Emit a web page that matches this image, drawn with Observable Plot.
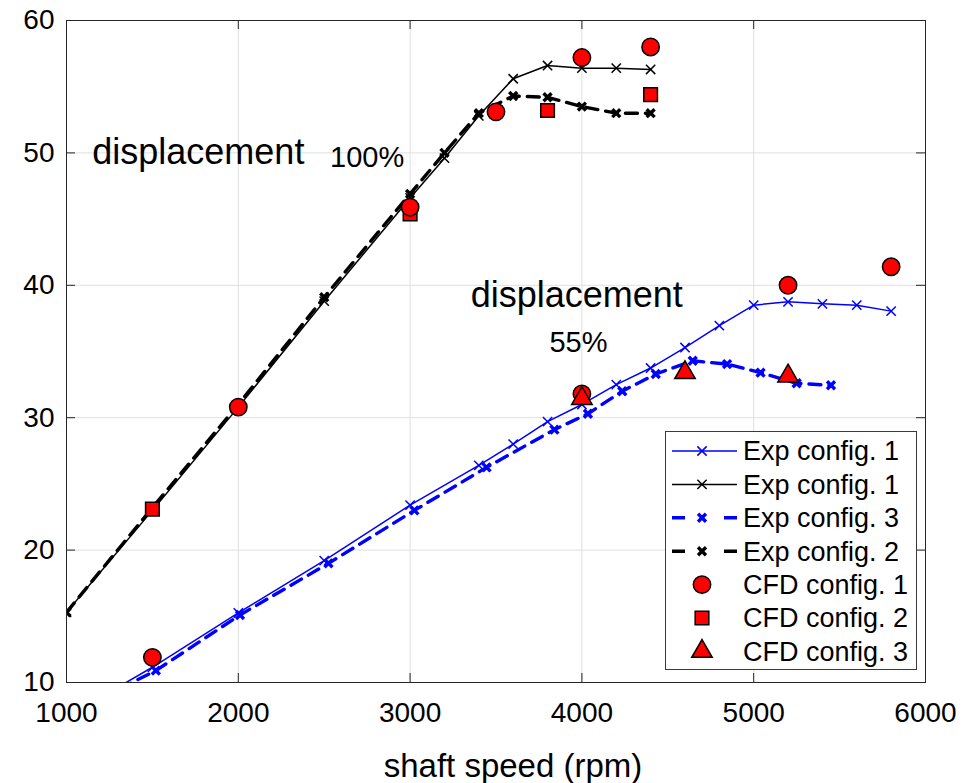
<!DOCTYPE html>
<html><head><meta charset="utf-8">
<script src="https://cdn.jsdelivr.net/npm/d3@7"></script>
<script src="https://cdn.jsdelivr.net/npm/@observablehq/plot@0.6"></script>
<style>
html,body{margin:0;padding:0;background:#fff;}
#chart{position:relative;width:979px;height:783px;font-family:"Liberation Sans",Arial,sans-serif;}
#legend{position:absolute;left:665px;top:431px;}
</style></head><body><div id="chart"></div>
<script>
// ---- ticks & labels ----
const xTicks = [1000, 2000, 3000, 4000, 5000, 6000];
const yTicks = [10, 20, 30, 40, 50, 60];
const xLabel = "shaft speed (rpm)";

// ---- 55% displacement, Exp config. 1 (blue solid) ----
const expBlue1X = [1000, 1500, 2000, 2500, 3000, 3400, 3600, 3800, 4000, 4200, 4400, 4600, 4800, 5000, 5200, 5400, 5600, 5800];
const expBlue1Y = [7.4, 11.15, 15.25, 19.2, 23.4, 26.4, 28.0, 29.7, 31.0, 32.5, 33.75, 35.3, 36.95, 38.5, 38.75, 38.6, 38.5, 38.05];

// ---- 100% displacement, Exp config. 1 (black solid) ----
const expBlack1X = [1000, 1500, 2000, 2500, 3000, 3200, 3400, 3600, 3800, 4000, 4200, 4400];
const expBlack1Y = [15.3, 23.0, 30.8, 38.8, 46.6, 49.6, 52.8, 55.6, 56.6, 56.4, 56.4, 56.3];

// ---- 55% displacement, Exp config. 3 (blue dashed) ----
const expBlue3X = [1000, 1520, 2010, 2525, 3025, 3445, 3840, 4035, 4235, 4430, 4645, 4845, 5040, 5250, 5450];
const expBlue3Y = [7.5, 10.9, 15.1, 19.0, 23.0, 26.25, 29.1, 30.3, 32.0, 33.3, 34.3, 34.05, 33.4, 32.6, 32.45];

// ---- 100% displacement, Exp config. 2 (black dashed) ----
const expBlack2X = [1000, 1500, 2000, 2500, 3000, 3200, 3400, 3600, 3800, 4000, 4200, 4400];
const expBlack2Y = [15.3, 23.2, 31.0, 39.1, 46.9, 50.0, 53.0, 54.3, 54.2, 53.5, 53.0, 53.0];

// ---- CFD results ----
const cfd1X = [1500, 2000, 3000, 3500, 4000, 4400, 4000, 5200, 5800];
const cfd1Y = [11.9, 30.8, 45.9, 53.1, 57.2, 58.0, 31.8, 40.0, 41.4];
const cfd2X = [1500, 3000, 3800, 4400];
const cfd2Y = [23.1, 45.4, 53.2, 54.4];
const cfd3X = [4000, 4600, 5200];
const cfd3Y = [31.45, 33.4, 33.15];

// ---- annotations ----
const annStartText = ["displacement"];
const annStartX = [1150];
const annStartY = [50.0];
const annMidText = ["100%", "displacement", "55%"];
const annMidX = [2750, 3970, 3980];
const annMidY = [49.6, 39.25, 35.7];
const annMidSize = [29, 36, 29];

// ---- legend ----
const legendNames = ["Exp config. 1", "Exp config. 1", "Exp config. 3", "Exp config. 2", "CFD config. 1", "CFD config. 2", "CFD config. 3"];

const pts = (xs, ys) => xs.map((x, i) => ({x, y: ys[i]}));
const blue = "#0000ff", red = "#ff0000";
const styles = [
  {kind: "line", stroke: blue, sw: 1.5, dash: null, msw: 1.5, mr: 4.3},
  {kind: "line", stroke: "#000", sw: 1.5, dash: null, msw: 1.5, mr: 4.3},
  {kind: "line", stroke: blue, sw: 3.4, dash: "12,8", msw: 3.4, mr: 3.7},
  {kind: "line", stroke: "#000", sw: 3.4, dash: "12,8", msw: 3.4, mr: 3.7},
  {kind: "sym", symbol: "circle", r: 8.7},
  {kind: "sym", symbol: "square", r: 7.7},
  {kind: "sym", symbol: "triangle", r: 7.6}
];
const series = [
  pts(expBlue1X, expBlue1Y), pts(expBlack1X, expBlack1Y), pts(expBlue3X, expBlue3Y), pts(expBlack2X, expBlack2Y),
  pts(cfd1X, cfd1Y), pts(cfd2X, cfd2Y), pts(cfd3X, cfd3Y)
];
const annStart = annStartText.map((t, i) => ({t, x: annStartX[i], y: annStartY[i]}));
const annMid = annMidText.map((t, i) => ({t, x: annMidX[i], y: annMidY[i], s: annMidSize[i]}));

const W = 979, H = 783, mL = 66, mR = 54, mT = 20, mB = 101;
const pW = W - mL - mR, pH = H - mT - mB;
const axisCol = "#262626", gridCol = "#dfdfdf";

const marks = [
  Plot.ruleX(xTicks, {stroke: gridCol, strokeWidth: 1}),
  Plot.ruleY(yTicks, {stroke: gridCol, strokeWidth: 1}),
];
[0, 1, 2, 3].forEach(i => {
  const st = styles[i];
  marks.push(Plot.line(series[i], {x: "x", y: "y", stroke: st.stroke, strokeWidth: st.sw, strokeDasharray: st.dash, clip: true}));
  marks.push(Plot.dot(series[i], {x: "x", y: "y", symbol: "times", r: st.mr, stroke: st.stroke, strokeWidth: st.msw, fill: "none", clip: true}));
});
[5, 4, 6].forEach(i => {
  const st = styles[i];
  marks.push(Plot.dot(series[i], {x: "x", y: "y", symbol: st.symbol, r: st.r, fill: red, stroke: "#000", strokeWidth: 1.5}));
});
marks.push(
  Plot.text(annStart, {x: "x", y: "y", text: "t", fontSize: 36, textAnchor: "start", fill: "#000"}),
  Plot.text(annMid, {x: "x", y: "y", text: "t", fontSize: "s", textAnchor: "middle", fill: "#000"}),
  Plot.frame({stroke: axisCol, strokeWidth: 1}),
  Plot.ruleX(xTicks, {stroke: axisCol, insetTop: pH - 9}),
  Plot.ruleX(xTicks, {stroke: axisCol, insetBottom: pH - 9}),
  Plot.ruleY(yTicks, {stroke: axisCol, insetRight: pW - 9}),
  Plot.ruleY(yTicks, {stroke: axisCol, insetLeft: pW - 9}),
  Plot.text([xLabel], {frameAnchor: "bottom", text: d => d, dy: 84, dx: 17, fontSize: 33, fill: "#000", lineAnchor: "middle"})
);

const chart = Plot.plot({
  width: W, height: H,
  marginLeft: mL, marginRight: mR, marginTop: mT, marginBottom: mB,
  style: {fontFamily: "'Liberation Sans', Arial, sans-serif", fontSize: "28px", background: "#fff", color: "#000"},
  x: {domain: [1000, 6000], ticks: xTicks, tickSize: 0, tickPadding: 20, tickFormat: d3.format("d"), label: null},
  y: {domain: [10, 60], ticks: yTicks, tickSize: 0, tickPadding: 12, tickFormat: d3.format("d"), label: null},
  marks
});
const container = document.getElementById("chart");
container.appendChild(chart);

// ---- legend (HTML overlay with SVG samples) ----
const LW = 252, LH = 239, rowY0 = 20, rowDy = 33.4;
const leg = d3.select(container).append("svg").attr("id", "legend").attr("width", LW).attr("height", LH)
  .style("font-family", "'Liberation Sans', Arial, sans-serif");
leg.append("rect").attr("x", 0.5).attr("y", 0.5).attr("width", LW - 1).attr("height", LH - 1)
  .attr("fill", "#fff").attr("stroke", "#3a3a3a").attr("stroke-width", 1);
const symArea = r => Math.PI * r * r;
const symMap = {circle: d3.symbolCircle, square: d3.symbolSquare, triangle: d3.symbolTriangle};
legendNames.forEach((name, i) => {
  const st = styles[i];
  const y = rowY0 + i * rowDy;
  const g = leg.append("g").attr("transform", `translate(0,${y})`);
  if (st.kind === "line") {
    g.append("line").attr("x1", 7).attr("x2", 72).attr("y1", 0).attr("y2", 0)
      .attr("stroke", st.stroke).attr("stroke-width", st.sw)
      .attr("stroke-dasharray", st.dash ? "13,39" : null);
    g.append("path").attr("transform", "translate(37,0)")
      .attr("d", d3.symbol(d3.symbolTimes, symArea(st.mr))())
      .attr("stroke", st.stroke).attr("stroke-width", st.msw).attr("fill", "none");
  } else {
    g.append("path").attr("transform", "translate(37,0)")
      .attr("d", d3.symbol(symMap[st.symbol], symArea(st.r))())
      .attr("fill", red).attr("stroke", "#000").attr("stroke-width", 1.5);
  }
  g.append("text").attr("x", 78).attr("y", 0).attr("dy", "0.35em")
    .attr("font-size", 27).attr("fill", "#000").text(name);
});
</script></body></html>
